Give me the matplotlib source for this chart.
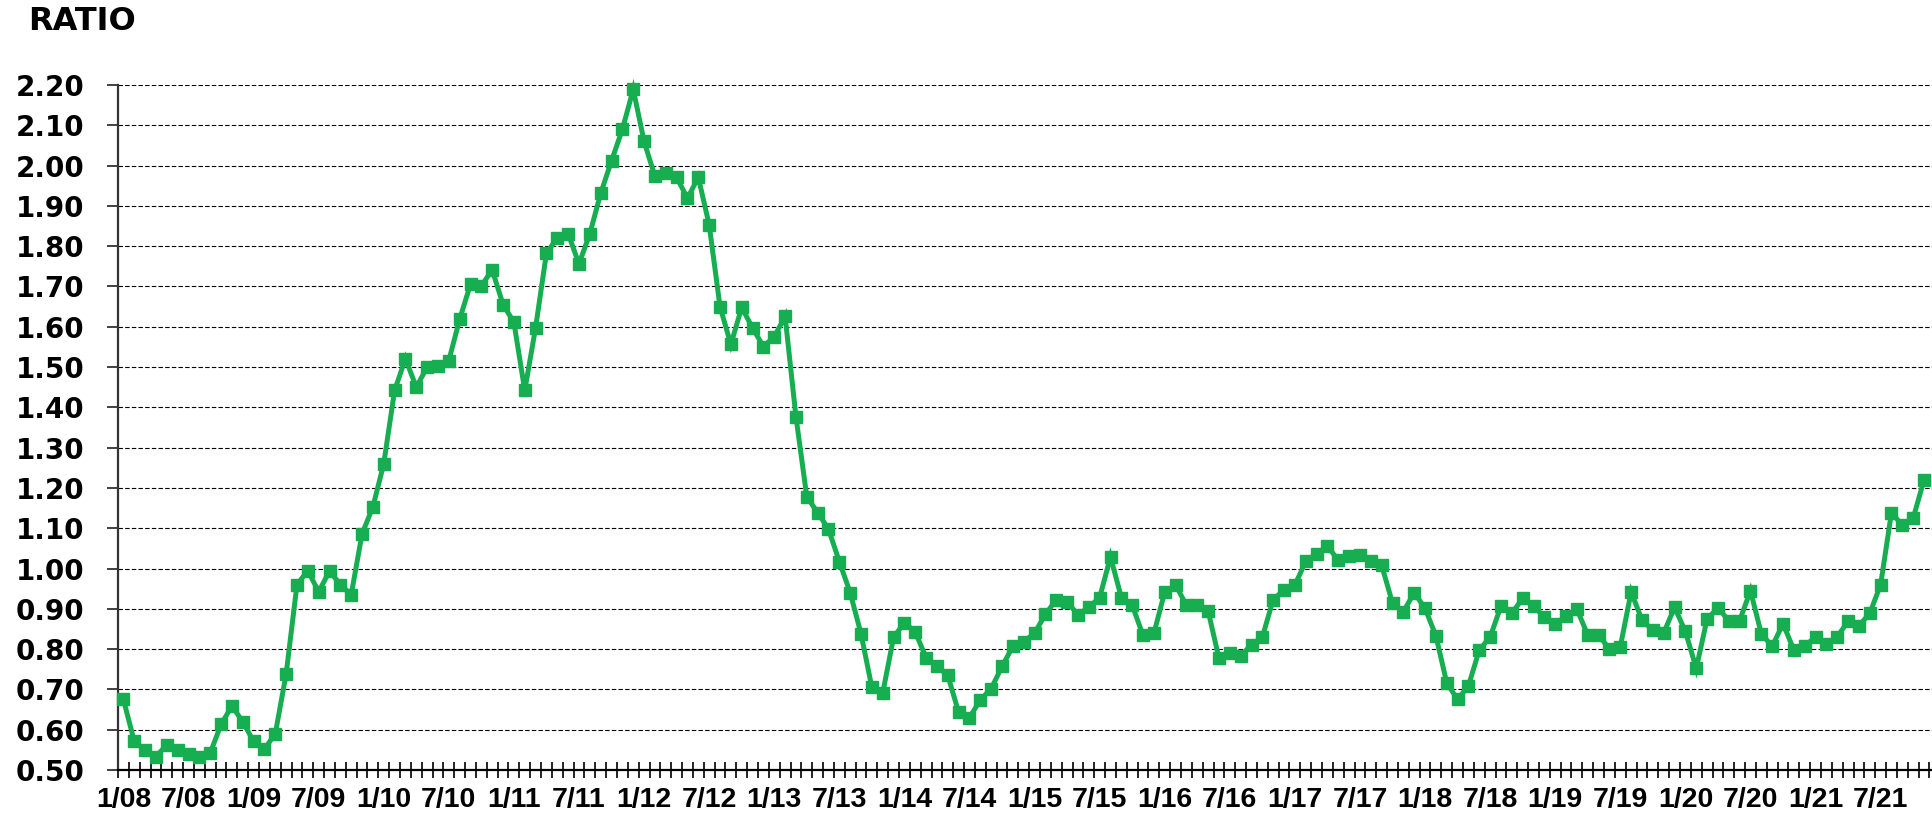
import matplotlib
matplotlib.use("Agg")
import matplotlib.pyplot as plt
from matplotlib.ticker import FixedLocator, NullFormatter

# ---- data (monthly, 1/08 .. 11/21) ----
ratio = [
    0.675, 0.571, 0.550, 0.533, 0.563, 0.550, 0.540, 0.533, 0.542, 0.613, 0.659, 0.620,  # 2008
    0.571, 0.552, 0.590, 0.738, 0.960, 0.995, 0.942, 0.994, 0.960, 0.935, 1.086, 1.153,  # 2009
    1.260, 1.442, 1.521, 1.450, 1.500, 1.502, 1.516, 1.619, 1.706, 1.702, 1.741, 1.655,  # 2010
    1.611, 1.442, 1.598, 1.783, 1.820, 1.831, 1.756, 1.831, 1.931, 2.012, 2.090, 2.189,  # 2011
    2.060, 1.973, 1.981, 1.971, 1.919, 1.971, 1.853, 1.650, 1.556, 1.648, 1.597, 1.551,  # 2012
    1.575, 1.626, 1.377, 1.178, 1.139, 1.098, 1.017, 0.940, 0.838, 0.705, 0.691, 0.829,  # 2013
    0.866, 0.842, 0.779, 0.757, 0.735, 0.643, 0.630, 0.674, 0.702, 0.757, 0.807, 0.818,  # 2014
    0.840, 0.886, 0.923, 0.918, 0.885, 0.904, 0.928, 1.029, 0.928, 0.909, 0.834, 0.839,  # 2015
    0.942, 0.959, 0.909, 0.909, 0.895, 0.777, 0.790, 0.783, 0.811, 0.830, 0.923, 0.947,  # 2016
    0.959, 1.018, 1.037, 1.055, 1.021, 1.032, 1.033, 1.019, 1.008, 0.914, 0.893, 0.940,  # 2017
    0.901, 0.833, 0.716, 0.675, 0.709, 0.798, 0.830, 0.907, 0.889, 0.926, 0.907, 0.879,  # 2018
    0.862, 0.882, 0.899, 0.835, 0.835, 0.800, 0.806, 0.942, 0.872, 0.847, 0.840, 0.904,  # 2019
    0.844, 0.752, 0.875, 0.902, 0.871, 0.871, 0.945, 0.838, 0.807, 0.863, 0.798, 0.808,  # 2020
    0.830, 0.813, 0.831, 0.869, 0.858, 0.889, 0.960, 1.139, 1.107, 1.125, 1.220,         # 2021
]

tick_labels = ["1/08", "7/08", "1/09", "7/09", "1/10", "7/10", "1/11", "7/11",
               "1/12", "7/12", "1/13", "7/13", "1/14", "7/14", "1/15", "7/15",
               "1/16", "7/16", "1/17", "7/17", "1/18", "7/18", "1/19", "7/19",
               "1/20", "7/20", "1/21", "7/21"]
y_ticks = [0.50, 0.60, 0.70, 0.80, 0.90, 1.00, 1.10, 1.20, 1.30, 1.40, 1.50,
           1.60, 1.70, 1.80, 1.90, 2.00, 2.10, 2.20]
y_title = "RATIO"

W, H = 1932, 814
fig = plt.figure(figsize=(W / 100, H / 100), dpi=100)
ax = fig.add_axes([118 / W, (H - 770) / H, (W - 118) / W, (770 - 85) / H])

green = "#17AE52"
x = list(range(len(ratio)))
ax.plot(x, ratio, color=green, lw=3.6, marker="s", markersize=8.3,
        markerfacecolor=green, markeredgecolor=green, solid_joinstyle="miter",
        zorder=3, clip_on=False)

ax.set_ylim(0.5, 2.2)
ax.set_xlim(-0.5, -0.5 + (W - 118) / 10.847)

# y axis
ax.set_yticks(y_ticks)
ax.set_yticklabels([f"{v:.2f}" for v in y_ticks], fontfamily="DejaVu Sans",
                   fontweight="bold", fontsize=20)
ax.tick_params(axis="y", direction="out", length=8, width=1.3, color="#333333",
               pad=16)
ax.yaxis.grid(True, color="black", lw=0.8, linestyle=(0, (4, 2)))
ax.set_axisbelow(True)

# x axis
major_pos = [6 * i for i in range(len(tick_labels))]
ax.xaxis.set_major_locator(FixedLocator(major_pos))
ax.set_xticklabels(tick_labels, fontfamily="Liberation Sans", fontweight="bold",
                   fontsize=20.5)
ax.tick_params(axis="x", which="major", length=0, pad=12)
ax.xaxis.set_minor_locator(FixedLocator([i - 0.5 for i in range(len(ratio) + 1)]))
ax.xaxis.set_minor_formatter(NullFormatter())
ax.tick_params(axis="x", which="minor", direction="inout", length=11.5, width=1.2,
               color="black")

for s in ["top", "right"]:
    ax.spines[s].set_visible(False)
ax.spines["left"].set_color("#333333")
ax.spines["left"].set_linewidth(1.6)
ax.spines["bottom"].set_color("black")
ax.spines["bottom"].set_linewidth(1.6)

fig.text(28 / W, 1 - 21 / H, y_title, fontfamily="DejaVu Sans", fontweight="bold",
         fontsize=23, ha="left", va="center")

fig.savefig("out.png", dpi=100)
